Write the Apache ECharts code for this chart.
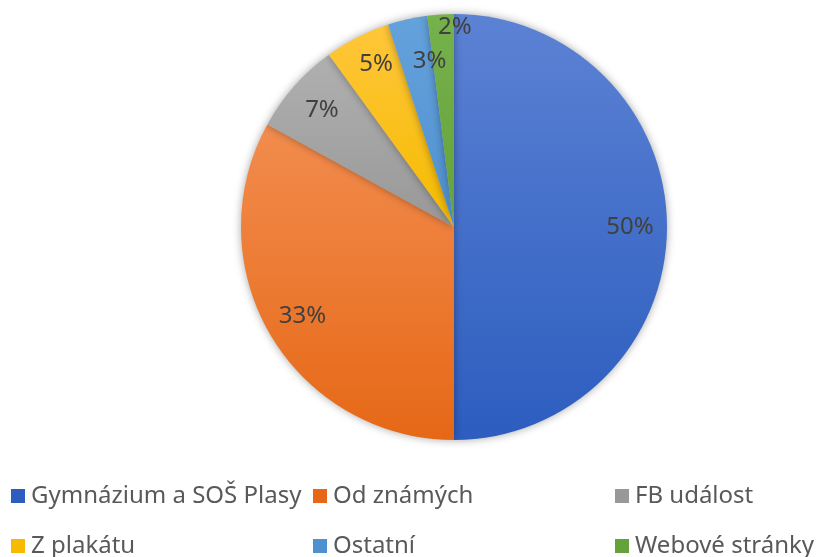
<!DOCTYPE html>
<html>
<head>
<meta charset="utf-8">
<script src="https://cdn.jsdelivr.net/npm/echarts@6/dist/echarts.min.js"></script>
<style>
  html, body { margin: 0; padding: 0; background: #fff; }
  #chart { width: 825px; height: 557px; }
</style>
</head>
<body>
<div id="chart"></div>
<script>
// Sources of information (percent of respondents)
const categories = ['Gymnázium a SOŠ Plasy', 'Od známých', 'FB událost', 'Z plakátu', 'Ostatní', 'Webové stránky'];
const values = [50, 33, 7, 5, 3, 2];

// Slice colours: [top, bottom] of a vertical gradient
const sliceColors = [
  ['#5c82d4', '#2c5dbf'],
  ['#f28c4e', '#e66816'],
  ['#b0b0b0', '#989898'],
  ['#ffc63a', '#f5bb00'],
  ['#64a2dc', '#4f90cf'],
  ['#76b24c', '#66a23c']
];

// Legend grid placement (two rows, three columns)
const legendPos = [
  { left: 11, top: 484 }, { left: 313, top: 484 }, { left: 615, top: 484 },
  { left: 11, top: 534 }, { left: 313, top: 534 }, { left: 615, top: 534 }
];

// Small nudges for crowded percentage labels
const labelNudge = { 3: [2, -6], 4: [14, 6], 5: [12, -24] };

const center = [454, 227];
const R = 213;
const FONT = 'Noto Sans';

function grad(i) {
  return new echarts.graphic.LinearGradient(0, 0, 0, 1, [
    { offset: 0, color: sliceColors[i][0] },
    { offset: 1, color: sliceColors[i][1] }
  ]);
}

const pieData = categories.map((name, i) => ({
  name, value: values[i],
  itemStyle: { color: grad(i) }
}));

// transparent ring used only to place percentage labels at ~0.8 R
const labelData = categories.map((name, i) => {
  const d = { name, value: values[i] };
  if (labelNudge[i]) d.label = { offset: labelNudge[i] };
  return d;
});

const chart = echarts.init(document.getElementById('chart'), null, { renderer: 'canvas' });
chart.setOption({
  animation: false,
  backgroundColor: '#ffffff',
  legend: categories.map((name, i) => ({
    data: [{ name, itemStyle: { color: sliceColors[i][1] } }],
    left: legendPos[i].left,
    top: legendPos[i].top,
    padding: 0,
    icon: 'rect',
    itemWidth: 14,
    itemHeight: 14,
    itemGap: 0,
    selectedMode: false,
    textStyle: { fontFamily: FONT, fontSize: 24, color: '#595959', padding: [0, 0, 0, 1] }
  })),
  series: [
    {
      type: 'pie',
      center: center,
      radius: [0, R],
      startAngle: 90,
      clockwise: true,
      silent: true,
      label: { show: false },
      labelLine: { show: false },
      itemStyle: {
        borderWidth: 0,
        shadowBlur: 9,
        shadowColor: 'rgba(0,0,0,0.35)'
      },
      data: pieData
    },
    {
      type: 'pie',
      center: center,
      radius: [150, 196],
      startAngle: 90,
      clockwise: true,
      silent: true,
      itemStyle: { color: 'rgba(0,0,0,0)' },
      label: {
        show: true,
        position: 'inside',
        formatter: '{c}%',
        fontFamily: FONT,
        fontSize: 24,
        color: '#404040'
      },
      labelLine: { show: false },
      data: labelData
    }
  ]
});
</script>
</body>
</html>
